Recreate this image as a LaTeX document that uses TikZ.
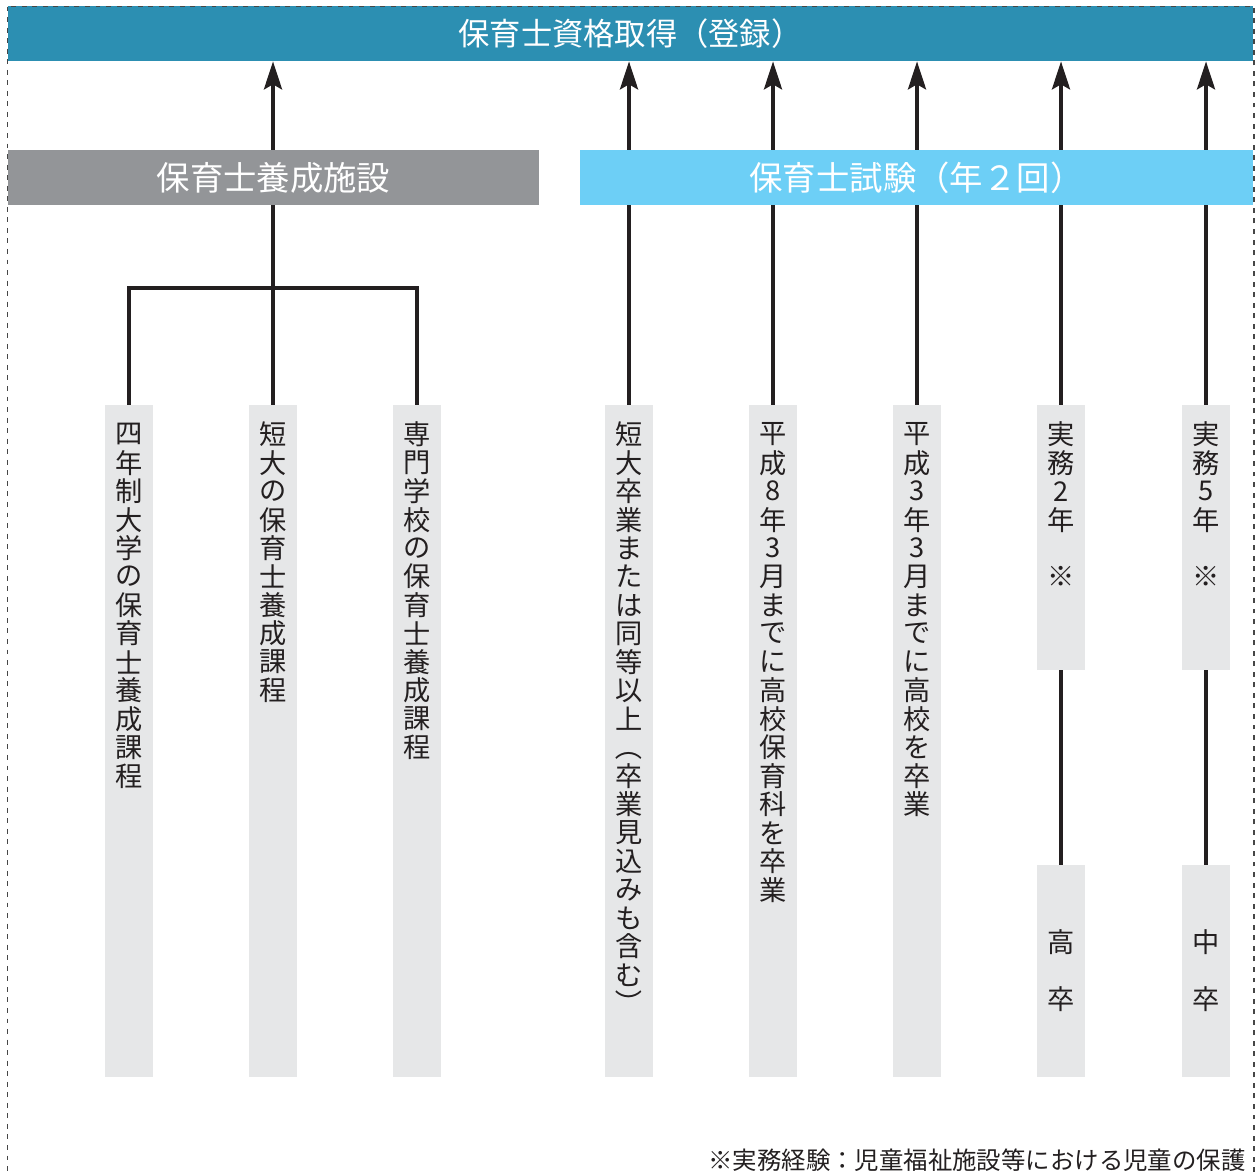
\documentclass[tikz,border=0pt]{standalone}
\usepackage{fontspec}
\setmainfont{Noto Sans CJK JP}
\usetikzlibrary{arrows.meta}
\usetikzlibrary{backgrounds}
\usetikzlibrary{positioning}

\definecolor{bannerblue}{RGB}{44,143,178}
\definecolor{schoolgray}{RGB}{147,149,152}
\definecolor{examblue}{RGB}{109,207,246}
\definecolor{colgray}{RGB}{230,231,232}
\definecolor{inkblack}{RGB}{35,31,32}
\definecolor{framegray}{RGB}{70,70,70}

% vertical (tategaki) text: one character per slot
\newlength\tatepitch
\setlength\tatepitch{16.2pt}
\newcommand\tate[1]{\vbox{\offinterlineskip\tatechar#1\relax}}
\def\tatechar#1{\ifx#1\relax\else\hbox to\tatepitch{\hss\vbox to\tatepitch{\vss\hbox{#1}\vss}\hss}\expandafter\tatechar\fi}
% turned brackets for vertical text
\newcommand\topen{\rotatebox[origin=c]{-90}{（}}
\newcommand\tclose{\rotatebox[origin=c]{-90}{）}}

\tikzset{
  banner/.style={fill=bannerblue, text=white, font=\fontsize{17.8pt}{20pt}\selectfont,
    minimum width=24.9cm, minimum height=1.1cm, inner sep=0pt},
  route/.style={minimum height=1.1cm, inner sep=0pt, text=white,
    font=\fontsize{19pt}{21pt}\selectfont},
  column/.style={fill=colgray, minimum width=0.96cm, inner sep=0pt},
  tatetext/.style={inner sep=0pt, text=inkblack, font=\fontsize{15.5pt}{16pt}\selectfont},
  link/.style={draw=inkblack, line width=2.2pt},
  uplink/.style={link, -{Stealth[length=0.56cm, width=0.36cm, inset=0.1cm]}},
  frame/.style={draw=framegray, line width=0.9pt, dash pattern=on 2.8pt off 3.2pt},
  note/.style={inner sep=0pt, text=inkblack, font=\fontsize{13.9pt}{16pt}\selectfont},
}

\begin{document}
\begin{tikzpicture}[x=0.02cm, y=-0.02cm]
  \useasboundingbox (0,0) rectangle (1258,1174);

  % Qualification
  \node[banner] (top) at (630.5,33.5) {保育士資格取得（登録）};

  % Routes
  \node[route, fill=schoolgray, minimum width=10.62cm] (school) at (273.5,177.5) {保育士養成施設};
  \node[route, fill=examblue, minimum width=13.46cm] (exam) at (916.5,177.5) {保育士試験（年２回）};

  % Columns
  \foreach \n/\x in {1/129, 2/273, 3/417, 4/629, 5/773, 6/917}
    \node[column, minimum height=13.44cm] (c\n) at (\x,741) {};
  \foreach \n/\x in {7/1061, 8/1206} {
    \node[column, minimum height=5.3cm] (c\n) at (\x,537.5) {};
    \node[column, minimum height=4.24cm] (b\n) at (\x,971) {};
  }

  % Column texts
  \node[tatetext, below=0.3cm of c1.north] (t1) {\tate{四年制大学の保育士養成課程}};
  \node[tatetext, below=0.3cm of c2.north] (t2) {\tate{短大の保育士養成課程}};
  \node[tatetext, below=0.3cm of c3.north] (t3) {\tate{専門学校の保育士養成課程}};
  \node[tatetext, below=0.3cm of c4.north] (t4) {\tate{短大卒業または同等以上{\topen}卒業見込みも含む{\tclose}}};
  \node[tatetext, below=0.3cm of c5.north] (t5) {\tate{平成8年3月までに高校保育科を卒業}};
  \node[tatetext, below=0.3cm of c6.north] (t6) {\tate{平成3年3月までに高校を卒業}};
  \node[tatetext, below=0.3cm of c7.north] (t7) {\tate{実務2年~※}};
  \node[tatetext, below=0.3cm of c8.north] (t8) {\tate{実務5年~※}};
  \node[tatetext] (u7) at (b7.center) {\tate{高~卒}};
  \node[tatetext] (u8) at (b8.center) {\tate{中~卒}};

  % Connectors
  \begin{scope}[on background layer]
    \coordinate (fork) at (273,288);
    \draw[link] (c1.north) |- (fork) -| (c3.north);
    \foreach \c in {c2, c4, c5, c6, c7, c8}
      \draw[uplink] (\c.north) -- (top.south -| \c.north);
    \draw[link] (c7.south) -- (b7.north);
    \draw[link] (c8.south) -- (b8.north);
  \end{scope}

  % Note
  \node[note, anchor=west] (footnote) at (708,1160) {※実務経験：児童福祉施設等における児童の保護};

  % Frame
  \draw[frame] (7.5,6.5) rectangle (1254,1210);
\end{tikzpicture}
\end{document}
